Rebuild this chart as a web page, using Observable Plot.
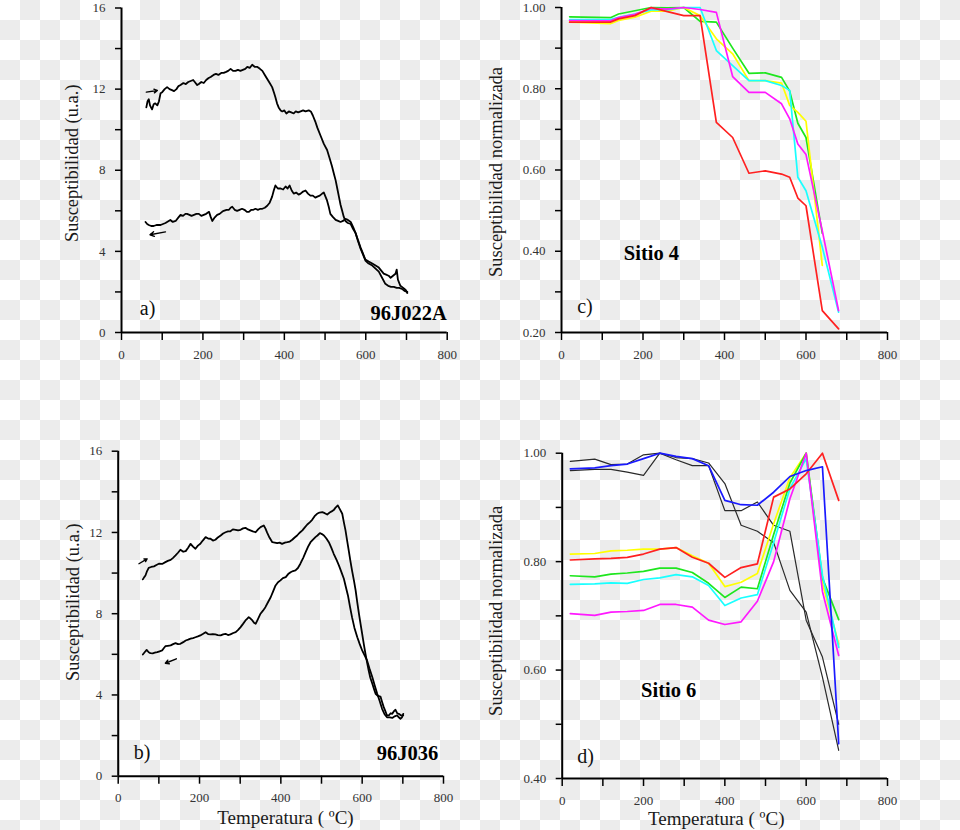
<!DOCTYPE html>
<html><head><meta charset="utf-8">
<script src="https://cdn.jsdelivr.net/npm/d3@7"></script>
<script src="https://cdn.jsdelivr.net/npm/@observablehq/plot@0.6"></script>
<style>
html,body{margin:0;padding:0;}
body{width:960px;height:830px;overflow:hidden;background:repeating-conic-gradient(#ececec 0 25%, #ffffff 0 50%) 0 0/40px 40px;}
#wrap{position:relative;width:960px;height:830px;}
#wrap svg{position:absolute;left:0;top:0;}
</style></head><body><div id="wrap"></div>
<script>
// ---------- DATA ----------
const xTicksMajor = [0, 200, 400, 600, 800];
const xTicksMinor = [100, 300, 500, 700];
const yTicksAB = [0, 4, 8, 12, 16];
const yMinorAB = [2, 6, 10, 14];
const yTicksC = [0.2, 0.4, 0.6, 0.8, 1.0];
const yMinorC = [0.3, 0.5, 0.7, 0.9];
const yTicksD = [0.4, 0.6, 0.8, 1.0];
const yMinorD = [0.5, 0.7, 0.9];

// Panel a) 96J022A : [temperature, susceptibility]
const aHeating = [[61,11.1],[64,11.4],[67,11.5],[70,11.2],[75,11.0],[79,11.25],[83,11.3],[88,11.2],[92,11.4],[96,11.8],[100,11.85],[106,12.0],[112,12.1],[118,12.0],[124,11.95],[129,11.9],[135,12.0],[140,12.15],[145,12.2],[152,12.3],[158,12.25],[164,12.35],[170,12.4],[176,12.45],[180,12.35],[186,12.2],[190,12.25],[196,12.35],[202,12.3],[208,12.45],[214,12.55],[219,12.6],[226,12.7],[232,12.75],[238,12.7],[245,12.8],[251,12.8],[257,12.85],[262,12.9],[268,13.0],[274,12.9],[280,12.9],[286,12.95],[292,12.9],[298,12.95],[304,13.0],[309,13.1],[315,13.05],[321,13.2],[327,13.1],[333,13.1],[340,13.0],[346,12.9],[352,12.7],[358,12.5],[364,12.3],[370,12.1],[375,11.8],[378,11.6],[382,11.3],[386,11.1],[391,10.95],[395,10.9],[400,10.95],[405,10.8],[411,10.9],[417,10.85],[423,10.8],[428,10.9],[434,10.85],[440,10.9],[446,10.95],[452,10.9],[460,10.95],[465,10.9],[470,10.7],[476,10.4],[481,10.1],[489,9.7],[497,9.3],[505,9.0],[511,8.6],[517,8.2],[522,7.8],[526,7.5],[530,7.1],[534,6.7],[538,6.3],[542,6.0],[546,5.7],[550,5.5],[556,5.4],[563,5.35],[569,5.1],[575,4.9],[581,4.55],[587,4.2],[593,3.9],[599,3.6],[607,3.5],[616,3.4],[624,3.3],[632,3.2],[638,3.05],[644,2.9],[650,2.85],[656,2.8],[661,2.7],[667,2.8],[673,2.9],[676,3.1],[679,2.6],[685,2.3],[692,2.2],[698,2.1],[702,1.95]];
const aCooling = [[59,5.45],[63,5.35],[67,5.3],[73,5.25],[79,5.25],[86,5.3],[92,5.3],[96,5.3],[102,5.35],[108,5.4],[112,5.45],[116,5.5],[120,5.55],[126,5.45],[133,5.5],[139,5.65],[145,5.8],[151,5.75],[157,5.85],[161,5.85],[167,5.8],[172,5.75],[178,5.8],[184,5.85],[190,5.85],[196,5.75],[202,5.8],[208,5.85],[215,5.95],[219,5.7],[223,5.5],[228,5.65],[235,5.8],[241,5.85],[247,5.95],[251,6.0],[258,6.05],[264,6.05],[268,6.15],[272,6.2],[278,6.05],[284,6.0],[290,6.05],[296,6.1],[302,6.05],[308,5.95],[313,5.95],[319,6.05],[324,6.05],[329,6.1],[335,6.05],[341,6.1],[346,6.1],[352,6.15],[358,6.25],[364,6.4],[370,6.7],[374,7.0],[378,7.25],[384,7.1],[391,7.1],[397,7.05],[403,7.2],[408,7.1],[413,7.25],[418,7.0],[423,6.85],[429,6.9],[435,6.8],[440,6.85],[446,6.95],[452,7.0],[458,6.85],[464,6.75],[470,6.75],[476,6.65],[481,6.7],[487,6.75],[493,6.85],[497,6.9],[501,6.7],[505,6.5],[509,6.2],[513,5.85],[519,5.7],[526,5.55],[532,5.5],[538,5.45],[544,5.5],[550,5.6],[556,5.55],[563,5.45],[569,5.2],[575,4.9],[581,4.5],[587,4.15],[593,3.85],[599,3.55],[607,3.4],[616,3.3],[624,3.15],[632,3.0],[640,2.7],[648,2.4],[655,2.3],[662,2.25],[669,2.25],[676,2.2],[682,2.2],[689,2.15],[695,2.05],[702,2.0]];
const aArrows = [[61,11.85,88,11.93],[108,4.96,70,4.82]];

// Panel b) 96J036
const bHeating = [[60.6,9.69],[64,9.8],[67,9.88],[71,10.1],[75,10.26],[81,10.3],[88,10.33],[94,10.4],[100,10.46],[108,10.45],[116,10.54],[122,10.6],[129,10.65],[135,10.75],[141,10.87],[147,11.0],[153,11.15],[160,11.05],[166,11.08],[172,11.25],[178,11.44],[184,11.3],[190,11.2],[196,11.35],[202,11.44],[208,11.6],[215,11.77],[221,11.7],[227,11.69],[233,11.6],[239,11.64],[245,11.75],[252,11.85],[258,11.95],[264,12.01],[270,12.05],[276,12.06],[282,12.15],[289,12.13],[295,12.1],[301,12.13],[307,12.2],[313,12.23],[319,12.15],[325,12.1],[331,12.05],[338,12.01],[344,12.15],[350,12.26],[358,12.34],[362,12.2],[366,12.0],[372,11.75],[379,11.52],[385,11.5],[391,11.47],[397,11.5],[403,11.44],[410,11.5],[416,11.52],[422,11.55],[428,11.64],[434,11.75],[440,11.85],[447,12.0],[453,12.1],[459,12.25],[465,12.39],[471,12.5],[477,12.62],[483,12.8],[489,12.92],[495,12.98],[502,13.0],[508,12.95],[514,12.88],[520,12.98],[526,13.05],[530,13.1],[534,13.21],[540,13.33],[545,13.15],[551,12.92],[555,12.5],[559,12.1],[563,11.6],[567,11.11],[571,10.6],[575,10.13],[580,9.6],[584,9.14],[588,8.55],[592,8.0],[596,7.5],[600,7.01],[604,6.5],[608,6.03],[612,5.6],[616,5.2],[620,4.85],[625,4.55],[629,4.3],[633,4.06],[639,3.95],[645,3.92],[649,3.65],[653,3.4],[657,3.2],[661,2.99],[666,3.0],[670,3.1],[674,3.07],[678,3.2],[682,3.27],[686,3.1],[690,3.07],[695,3.0],[701,2.99]];
const bCooling = [[60.6,5.99],[65,6.1],[70,6.22],[75,6.1],[79,6.06],[85,6.05],[90,6.08],[96,6.11],[102,6.15],[108,6.19],[112,6.3],[116,6.4],[122,6.42],[129,6.44],[135,6.5],[141,6.55],[147,6.5],[153,6.52],[160,6.6],[166,6.68],[172,6.72],[178,6.77],[184,6.8],[190,6.84],[196,6.88],[202,6.93],[208,7.0],[215,7.09],[221,7.0],[227,6.98],[233,7.0],[239,6.98],[245,6.95],[252,6.93],[258,6.98],[264,7.01],[270,6.95],[276,6.98],[283,7.05],[289,7.09],[295,7.2],[301,7.34],[307,7.5],[313,7.67],[317,7.75],[321,7.83],[326,7.75],[330,7.67],[334,7.55],[338,7.5],[344,7.75],[350,8.0],[356,8.15],[362,8.32],[368,8.55],[375,8.81],[381,9.1],[387,9.39],[393,9.55],[399,9.64],[405,9.75],[412,9.8],[418,9.95],[424,10.04],[430,10.1],[436,10.13],[442,10.25],[448,10.46],[455,10.75],[461,11.03],[467,11.3],[473,11.52],[479,11.65],[485,11.77],[490,11.85],[496,11.97],[501,11.92],[506,11.85],[512,11.7],[518,11.52],[524,11.25],[530,10.95],[537,10.65],[543,10.37],[549,10.05],[555,9.72],[560,9.3],[565,8.9],[570,8.35],[575,7.83],[581,7.3],[588,6.84],[594,6.5],[600,6.19],[606,5.95],[612,5.7],[618,5.3],[625,4.87],[631,4.45],[637,4.06],[643,3.7],[649,3.32],[655,3.05],[661,2.9],[668,2.9],[674,2.87],[680,2.95],[686,2.99],[690,2.9],[694,2.83],[698,2.9],[701,3.07]];
const bArrows = [[51,10.46,71,10.7],[143,5.78,116,5.56]];

// Panel c) Sitio 4 (normalised susceptibility)
const cTemps   = [20, 120, 140, 180, 220, 260, 300, 340, 380, 420, 460, 500, 540, 560, 580, 600, 640, 680];
const cVerde   = [0.977,0.975,0.984,0.992,1.0,0.999,1.0,0.966,0.964,0.90,0.838,0.839,0.828,0.794,0.715,0.680,0.444,null];
const cAmarillo= [0.964,0.960,0.968,0.976,0.991,0.991,1.0,0.980,0.923,0.886,0.820,0.820,0.814,0.759,0.742,0.720,0.365,null];
const cCian    = [0.970,0.970,0.976,0.984,0.994,0.994,1.0,1.0,0.894,0.857,0.820,0.820,0.808,0.796,0.582,0.549,0.410,0.250];
const cMagenta = [0.968,0.967,0.975,0.983,0.998,0.996,1.0,0.995,0.988,0.830,0.791,0.791,0.763,0.726,0.664,0.638,0.450,0.254];
const cRojo    = [0.964,0.964,0.972,0.980,1.0,0.990,0.980,0.980,0.717,0.680,0.592,0.598,0.590,0.582,0.531,0.512,0.254,0.209];

// Panel d) Sitio 6
const dTemps   = [20, 80, 120, 160, 200, 240, 280, 320, 360, 400, 440, 480, 520, 560, 600, 640, 680];
const dNegro1  = [0.985,0.989,0.979,0.980,0.997,1.0,0.988,0.977,0.977,0.894,0.894,0.910,0.867,0.856,0.692,0.624,0.500];
const dNegro2  = [0.968,0.970,0.970,0.965,0.959,1.0,0.992,0.990,0.982,0.944,0.867,0.856,0.835,0.747,0.707,0.587,0.452];
const dAmarillo= [0.814,0.815,0.820,0.821,0.823,0.823,0.826,0.811,0.797,0.754,0.762,0.778,0.870,0.955,1.0,0.760,0.648];
const dVerde   = [0.774,0.772,0.777,0.779,0.782,0.788,0.788,0.780,0.760,0.734,0.753,0.750,0.850,0.945,1.0,0.770,0.693];
const dCian    = [0.758,0.759,0.761,0.760,0.767,0.770,0.776,0.772,0.756,0.719,0.733,0.739,0.835,0.935,0.990,0.775,0.642];
const dMagenta = [0.704,0.701,0.707,0.708,0.710,0.721,0.721,0.716,0.692,0.684,0.689,0.727,0.800,0.916,1.0,0.745,0.627];
const dRojo    = [0.803,0.805,0.806,0.808,0.814,0.823,0.826,0.808,0.797,0.771,0.789,0.796,0.919,0.934,0.962,1.0,0.913];
const dAzul    = [0.971,0.973,0.977,0.980,0.990,1.0,0.994,0.990,0.977,0.913,0.905,0.904,0.928,0.957,0.968,0.975,0.464];

// ---------- HELPERS ----------
const FONT = "'Liberation Serif', 'Times New Roman', serif";
function longTable(temps, named) {
  const rows = [];
  for (const [name, vals] of named) vals.forEach((v, i) => { if (v != null) rows.push({s: name, t: temps[i], v}); });
  return rows;
}
function frameMarks({yDomain, yMajor, yMinor, yFmt, ylabel, ylDx, ylDy, xlabel, xlDx, xlDy}) {
  const m = [
    Plot.axisX(xTicksMajor, {tickSize: 8, tickPadding: 9, stroke: "#000", strokeWidth: 1.5, fill: "#333", label: null, fontSize: 13}),
    Plot.axisX(xTicksMinor, {tickSize: 8, tickFormat: () => "", stroke: "#000", strokeWidth: 1.5, label: null}),
    Plot.axisY(yMajor, {tickSize: 6, tickPadding: 10, tickFormat: yFmt, stroke: "#000", strokeWidth: 1.5, fill: "#333", label: null, fontSize: 13}),
    Plot.axisY(yMinor, {tickSize: 6, tickFormat: () => "", stroke: "#000", strokeWidth: 1.5, label: null}),
    Plot.ruleX([0], {stroke: "#000", strokeWidth: 2}),
    Plot.ruleY([yDomain[0]], {stroke: "#000", strokeWidth: 2}),
    Plot.text([ylabel], {frameAnchor: "left", textAnchor: "middle", lineAnchor: "middle", rotate: -90, dx: ylDx, dy: ylDy, fontSize: 18.5, fill: "#1a1a1a"})
  ];
  if (xlabel) m.push(Plot.text([xlabel], {frameAnchor: "bottom", textAnchor: "middle", lineAnchor: "middle", dx: xlDx, dy: xlDy, fontSize: 19, fill: "#1a1a1a"}));
  return m;
}
function draw(opts, marks, color) {
  const svg = Plot.plot({
    width: 960, height: 830,
    marginLeft: opts.ml, marginRight: 960 - opts.xr, marginTop: opts.yt, marginBottom: 830 - opts.yb,
    x: {domain: [0, 800]},
    y: {domain: opts.yDomain},
    color: color,
    style: {background: "transparent", fontFamily: FONT, fontSize: "13px", color: "#000", overflow: "visible"},
    marks: [...frameMarks(opts), ...marks]
  });
  document.getElementById("wrap").appendChild(svg);
}
const pair = (d) => ({t: d[0], v: d[1]});

// ---------- PANEL a ----------
draw({ml: 121, xr: 446.7, yt: 7.5, yb: 332, yDomain: [0, 16], yMajor: yTicksAB, yMinor: yMinorAB, yFmt: d3.format("d"),
      ylabel: "Susceptibilidad (u.a.)", ylDx: -49.5, ylDy: -7}, [
  Plot.line(aHeating.map(pair), {x: "t", y: "v", stroke: "#000", strokeWidth: 1.8}),
  Plot.line(aCooling.map(pair), {x: "t", y: "v", stroke: "#000", strokeWidth: 1.8}),
  Plot.arrow(aArrows, {x1: d => d[0], y1: d => d[1], x2: d => d[2], y2: d => d[3], stroke: "#000", strokeWidth: 1.4, headLength: 5}),
  Plot.text(["a)"], {x: 45, y: 1.18, textAnchor: "start", fontSize: 20, fill: "#111"}),
  Plot.text(["96J022A"], {x: 799, y: 0.96, textAnchor: "end", fontSize: 20.5, fontWeight: "bold", fill: "#000"})
]);

// ---------- PANEL b ----------
draw({ml: 117.7, xr: 443, yt: 450.7, yb: 775.7, yDomain: [0, 16], yMajor: yTicksAB, yMinor: yMinorAB, yFmt: d3.format("d"),
      ylabel: "Susceptibilidad (u.a.)", ylDx: -45, ylDy: -11.5, xlabel: "Temperatura ( ºC)", xlDx: 4.6, xlDy: 42}, [
  Plot.line(bHeating.map(pair), {x: "t", y: "v", stroke: "#000", strokeWidth: 1.8}),
  Plot.line(bCooling.map(pair), {x: "t", y: "v", stroke: "#000", strokeWidth: 1.8}),
  Plot.arrow(bArrows, {x1: d => d[0], y1: d => d[1], x2: d => d[2], y2: d => d[3], stroke: "#000", strokeWidth: 1.4, headLength: 5}),
  Plot.text(["b)"], {x: 38, y: 1.18, textAnchor: "start", fontSize: 20, fill: "#111"}),
  Plot.text(["96J036"], {x: 787, y: 1.1, textAnchor: "end", fontSize: 20.5, fontWeight: "bold", fill: "#000"})
]);

// ---------- PANEL c ----------
const cRows = longTable(cTemps, [["verde", cVerde], ["amarillo", cAmarillo], ["cian", cCian], ["magenta", cMagenta], ["rojo", cRojo]]);
draw({ml: 561, xr: 887, yt: 7, yb: 332, yDomain: [0.2, 1.0], yMajor: yTicksC, yMinor: yMinorC, yFmt: d3.format(".2f"),
      ylabel: "Susceptibilidad normalizada", ylDx: -65.5, ylDy: 2}, [
  Plot.line(cRows, {x: "t", y: "v", z: "s", stroke: "s", strokeWidth: 1.7}),
  Plot.text(["c)"], {x: 38.5, y: 0.264, textAnchor: "start", fontSize: 20, fill: "#111"}),
  Plot.text(["Sitio 4"], {x: 153, y: 0.395, textAnchor: "start", fontSize: 20.5, fontWeight: "bold", fill: "#000"})
], {domain: ["verde", "amarillo", "cian", "magenta", "rojo"], range: ["#1ee61e", "#ffff00", "#19ffff", "#ff19ff", "#ff2020"]});

// ---------- PANEL d ----------
const dRows = longTable(dTemps, [["negro1", dNegro1], ["negro2", dNegro2], ["amarillo", dAmarillo], ["verde", dVerde], ["cian", dCian], ["magenta", dMagenta], ["rojo", dRojo], ["azul", dAzul]]);
draw({ml: 561.7, xr: 887, yt: 452.7, yb: 778, yDomain: [0.4, 1.0], yMajor: yTicksD, yMinor: yMinorD, yFmt: d3.format(".2f"),
      ylabel: "Susceptibilidad normalizada", ylDx: -66, ylDy: -5, xlabel: "Temperatura ( ºC)", xlDx: -8.6, xlDy: 40.5}, [
  Plot.line(dRows.filter(r => r.s.startsWith("negro")), {x: "t", y: "v", z: "s", stroke: "#2a2a2a", strokeWidth: 1.2}),
  Plot.line(dRows.filter(r => !r.s.startsWith("negro")), {x: "t", y: "v", z: "s", stroke: "s", strokeWidth: 1.7}),
  Plot.text(["d)"], {x: 37, y: 0.441, textAnchor: "start", fontSize: 20, fill: "#111"}),
  Plot.text(["Sitio 6"], {x: 194, y: 0.562, textAnchor: "start", fontSize: 20.5, fontWeight: "bold", fill: "#000"})
], {domain: ["amarillo", "verde", "cian", "magenta", "rojo", "azul"], range: ["#ffff00", "#1ee61e", "#19ffff", "#ff19ff", "#ff2020", "#1a1aff"]});
</script></body></html>
